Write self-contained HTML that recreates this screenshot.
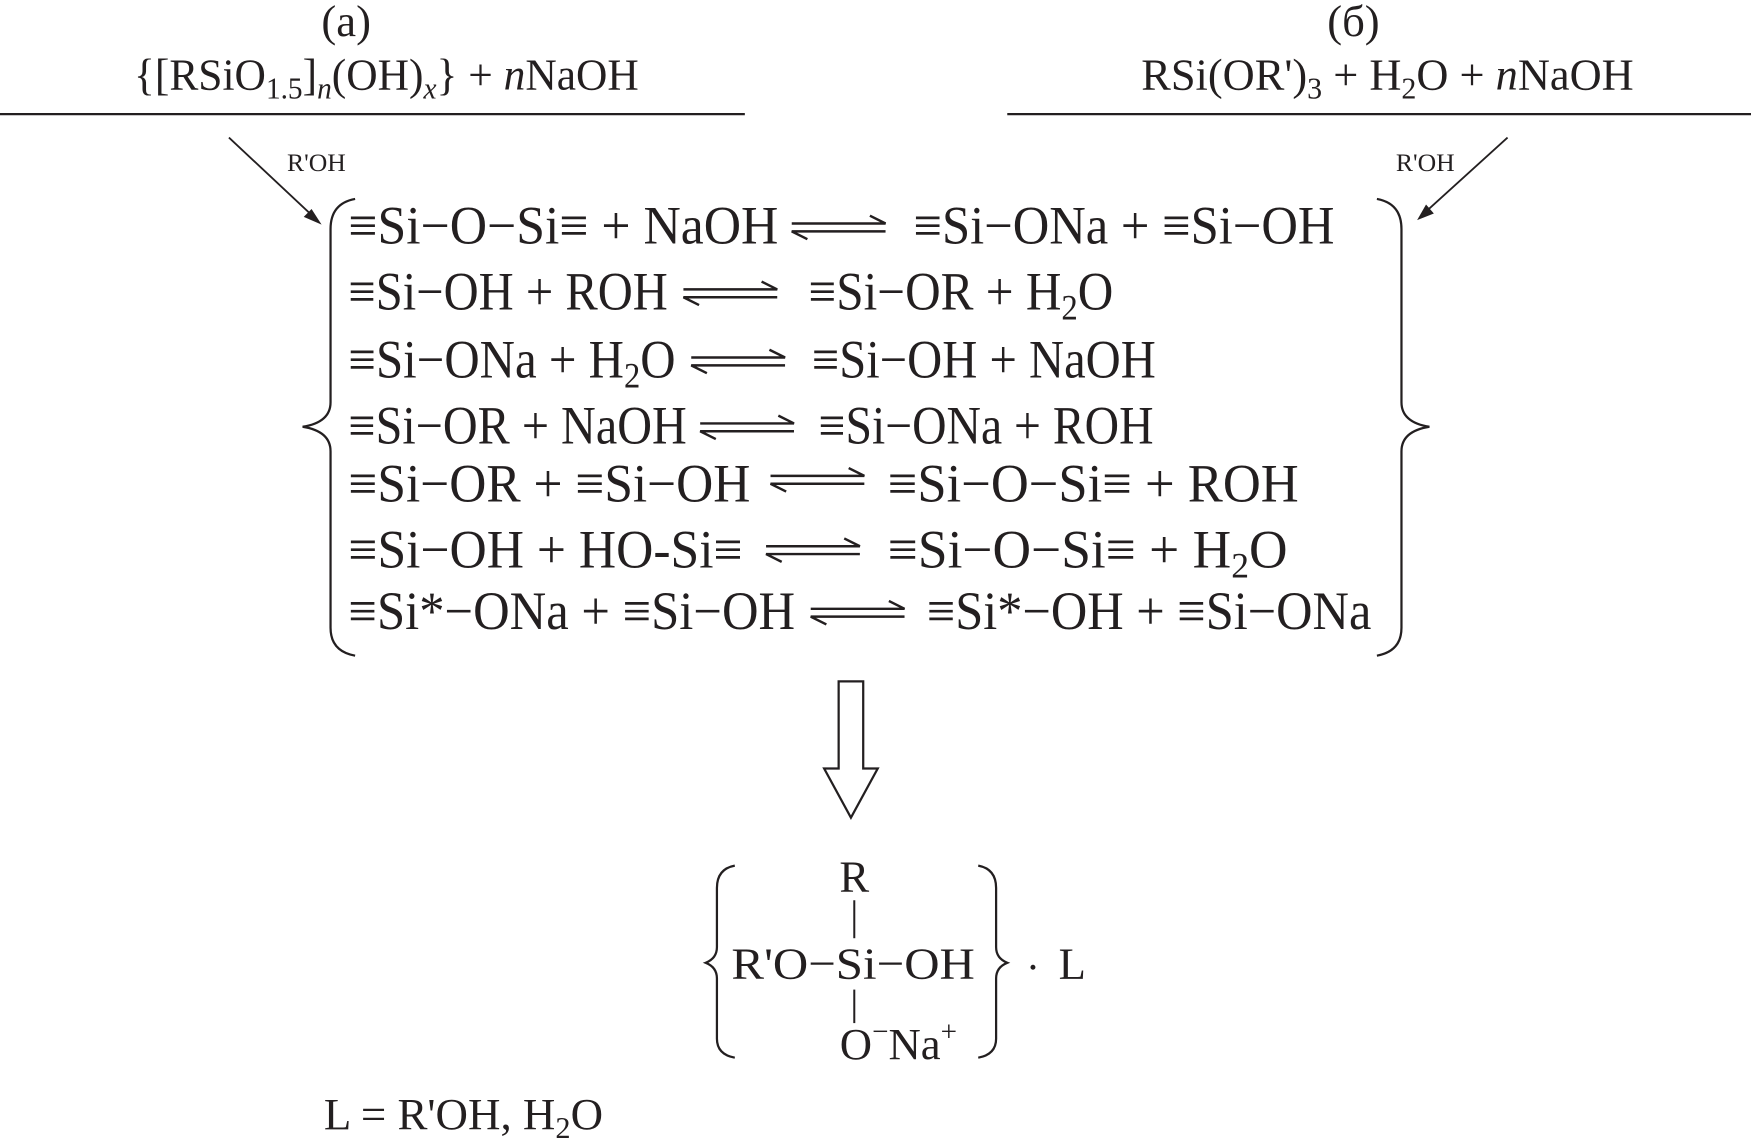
<!DOCTYPE html>
<html><head><meta charset="utf-8"><style>
html,body{margin:0;padding:0;background:#fff;}
svg{display:block;}
text{font-family:"Liberation Serif",serif;fill:#231f20;}
</style></head><body>
<svg width="1751" height="1145" viewBox="0 0 1568 1025" xmlns="http://www.w3.org/2000/svg">
<defs>
<g id="eq" fill="none" stroke="#231f20" stroke-width="2.2">
<path d="M0 -3 H84 L70 -10"/>
<path d="M84 4 H0 L14 11"/>
</g>
</defs>
<g font-size="48">
<!-- headers -->
<text x="310" y="32" text-anchor="middle" font-size="40">(a)</text>
<text x="1212" y="32" text-anchor="middle" font-size="40">(б)</text>
<text x="120" y="80" font-size="40" textLength="452" lengthAdjust="spacingAndGlyphs">{[RSiO<tspan font-size="27" dy="8">1.5</tspan><tspan dy="-8">]</tspan><tspan font-style="italic" font-size="27" dy="8">n</tspan><tspan dy="-8">(OH)</tspan><tspan font-style="italic" font-size="27" dy="8">x</tspan><tspan dy="-8">} + </tspan><tspan font-style="italic">n</tspan>NaOH</text>
<text x="1022" y="80" font-size="40" textLength="441" lengthAdjust="spacingAndGlyphs">RSi(OR')<tspan font-size="27" dy="8">3</tspan><tspan dy="-8"> + H</tspan><tspan font-size="27" dy="8">2</tspan><tspan dy="-8">O + </tspan><tspan font-style="italic">n</tspan>NaOH</text>
<line x1="0" y1="102" x2="667" y2="102" stroke="#231f20" stroke-width="2"/>
<line x1="902" y1="102" x2="1568" y2="102" stroke="#231f20" stroke-width="2"/>
<!-- side arrows -->
<line x1="205" y1="123" x2="284" y2="197" stroke="#231f20" stroke-width="1.6"/>
<path d="M288 201 L272 194 L279 187 Z" fill="#231f20"/>
<text x="257" y="153" font-size="23">R'OH</text>
<line x1="1350" y1="123" x2="1274" y2="192" stroke="#231f20" stroke-width="1.6"/>
<path d="M1269 197 L1277 183 L1284 191 Z" fill="#231f20"/>
<text x="1250" y="153" font-size="23">R'OH</text>
<!-- braces -->
<path d="M318 178 Q296 182 296 205 V360 Q296 378 271 382 Q296 386 296 404 V562 Q296 583 318 587" fill="none" stroke="#231f20" stroke-width="2"/>
<path d="M1233 178 Q1255 182 1255 205 V360 Q1255 378 1280 382 Q1255 386 1255 404 V562 Q1255 583 1233 587" fill="none" stroke="#231f20" stroke-width="2"/>
<!-- rows -->
<text x="312" y="218" textLength="385" lengthAdjust="spacingAndGlyphs">≡Si−O−Si≡ + NaOH</text>
<use href="#eq" x="709" y="203"/>
<text x="818" y="218" textLength="377" lengthAdjust="spacingAndGlyphs">≡Si−ONa + ≡Si−OH</text>

<text x="312" y="277" textLength="286" lengthAdjust="spacingAndGlyphs">≡Si−OH + ROH</text>
<use href="#eq" x="612" y="262"/>
<text x="724" y="277" textLength="273" lengthAdjust="spacingAndGlyphs">≡Si−OR + H<tspan font-size="32" dy="9">2</tspan><tspan dy="-9">O</tspan></text>

<text x="312" y="338" textLength="293" lengthAdjust="spacingAndGlyphs">≡Si−ONa + H<tspan font-size="32" dy="9">2</tspan><tspan dy="-9">O</tspan></text>
<use href="#eq" x="619" y="323"/>
<text x="727" y="338" textLength="308" lengthAdjust="spacingAndGlyphs">≡Si−OH + NaOH</text>

<text x="312" y="397" textLength="303" lengthAdjust="spacingAndGlyphs">≡Si−OR + NaOH</text>
<use href="#eq" x="627" y="382"/>
<text x="733" y="397" textLength="300" lengthAdjust="spacingAndGlyphs">≡Si−ONa + ROH</text>

<text x="312" y="449" textLength="360" lengthAdjust="spacingAndGlyphs">≡Si−OR + ≡Si−OH</text>
<use href="#eq" x="690" y="429"/>
<text x="795" y="449" textLength="368" lengthAdjust="spacingAndGlyphs">≡Si−O−Si≡ + ROH</text>

<text x="312" y="508" textLength="353" lengthAdjust="spacingAndGlyphs">≡Si−OH + HO-Si≡</text>
<use href="#eq" x="686" y="492"/>
<text x="795" y="508" textLength="358" lengthAdjust="spacingAndGlyphs">≡Si−O−Si≡  + H<tspan font-size="32" dy="9">2</tspan><tspan dy="-9">O</tspan></text>

<text x="312" y="563" textLength="400" lengthAdjust="spacingAndGlyphs">≡Si*−ONa + ≡Si−OH</text>
<use href="#eq" x="726" y="548"/>
<text x="830" y="563" textLength="398" lengthAdjust="spacingAndGlyphs">≡Si*−OH + ≡Si−ONa</text>
<!-- hollow arrow -->
<path d="M751 610 H773 V688 H786 L762 732 L738 688 H751 Z" fill="none" stroke="#231f20" stroke-width="2"/>
<!-- product -->
<path d="M658 775 Q642 778 642 795 V848 Q642 858 632 862 Q642 866 642 876 V930 Q642 944 658 947" fill="none" stroke="#231f20" stroke-width="2"/>
<path d="M876 775 Q892 778 892 795 V848 Q892 858 902 862 Q892 866 892 876 V930 Q892 944 876 947" fill="none" stroke="#231f20" stroke-width="2"/>
<text x="765" y="798" text-anchor="middle" font-size="40">R</text>
<line x1="765" y1="806" x2="765" y2="840" stroke="#231f20" stroke-width="1.8"/>
<text x="655" y="876" font-size="40" textLength="218" lengthAdjust="spacingAndGlyphs">R'O−Si−OH</text>
<line x1="765" y1="886" x2="765" y2="916" stroke="#231f20" stroke-width="1.8"/>
<text x="752" y="948" font-size="40" textLength="105" lengthAdjust="spacingAndGlyphs">O<tspan font-size="26" dy="-16">−</tspan><tspan dy="16">Na</tspan><tspan font-size="26" dy="-16">+</tspan></text>
<circle cx="925" cy="866" r="2.2" fill="#231f20"/>
<text x="948" y="876" font-size="40">L</text>
<text x="290" y="1011" font-size="40" textLength="250" lengthAdjust="spacingAndGlyphs">L = R'OH, H<tspan font-size="27" dy="8">2</tspan><tspan dy="-8">O</tspan></text>
</g>
</svg>
</body></html>
